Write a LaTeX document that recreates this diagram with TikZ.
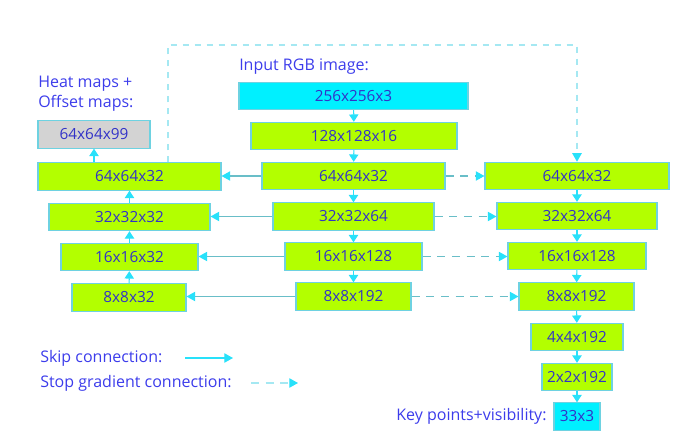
\documentclass[tikz,border=0pt]{standalone}
\usepackage{fontspec}
\setmainfont{Open Sans}
\usetikzlibrary{arrows.meta,calc}

\definecolor{limegr}{RGB}{179,255,0}
\definecolor{cyanbx}{RGB}{0,240,255}
\definecolor{greybx}{RGB}{211,211,211}
\definecolor{edgec}{RGB}{110,210,225}
\definecolor{txtc}{RGB}{50,50,200}
\definecolor{lblc}{RGB}{60,60,235}
\definecolor{skipc}{RGB}{105,190,200}
\definecolor{tipc}{RGB}{40,225,250}
\definecolor{stopc}{RGB}{165,232,242}

\tikzset{
  blk/.style={draw=edgec, line width=0.8pt, fill=limegr, text=txtc, inner sep=0pt,
    minimum height=20.5pt, minimum width=#1*0.75pt, font=\fontsize{11.5}{13}\selectfont},
  inblk/.style={blk=#1, fill=cyanbx},
  hmblk/.style={blk=#1, fill=greybx},
  lbl/.style={text=lblc, inner sep=0pt, font=\fontsize{12}{15}\selectfont},
  flow/.style={draw=tipc, line width=0.8pt, -{Triangle[width=7pt,length=5.5pt]}},
  skip/.style={draw=skipc, line width=0.9pt, -{Triangle[width=7pt,length=6.5pt,color=tipc]}},
  stop/.style={draw=skipc, line width=0.9pt, dash pattern=on 6pt off 5pt, -{Triangle[width=7pt,length=6.5pt,color=tipc]}},
  longstop/.style={draw=stopc, line width=1.3pt, dash pattern=on 5pt off 4pt, -{Triangle[width=7pt,length=6.5pt,color=tipc]}}
}

\begin{document}
\begin{tikzpicture}[x=0.75pt,y=0.75pt,yscale=-1,xscale=1]
\useasboundingbox (0,0) rectangle (687,440);

% Encoder (middle column)
\node [inblk=229] (in)  at (353.5,96)   {256x256x3};
\node [blk=206]   (c128) at (354,136)   {128x128x16};
\node [blk=183]   (m64) at (353.5,176)  {64x64x32};
\node [blk=161]   (m32) at (353.5,216.5) {32x32x64};
\node [blk=137]   (m16) at (353.5,256.5) {16x16x128};
\node [blk=115]   (m8)  at (353.5,296.5) {8x8x192};

% Heatmap branch (left column)
\node [hmblk=112] (hm)  at (94,134.5)   {64x64x99};
\node [blk=183]   (l64) at (129.5,176.5) {64x64x32};
\node [blk=161]   (l32) at (129.5,217)  {32x32x32};
\node [blk=137]   (l16) at (129.5,257)  {16x16x32};
\node [blk=114]   (l8)  at (129,297.5)  {8x8x32};

% Regression branch (right column)
\node [blk=184]   (r64) at (577,176)    {64x64x32};
\node [blk=160]   (r32) at (577,216)    {32x32x64};
\node [blk=138]   (r16) at (577,256)    {16x16x128};
\node [blk=115]   (r8)  at (576.5,296.5) {8x8x192};
\node [blk=92]    (r4)  at (577,337)    {4x4x192};
\node [blk=70]    (r2)  at (577,377)    {2x2x192};
\node [inblk=46]  (kp)  at (577,416.5)  {33x3};

%Straight Lines
\draw [flow] (in) -- (c128);
\draw [flow] (c128) -- (m64);
\draw [flow] (m64) -- (m32);
\draw [flow] (m32) -- (m16);
\draw [flow] (m16) -- (m8);
\draw [flow] (l8) -- (l16);
\draw [flow] (l16) -- (l32);
\draw [flow] (l32) -- (l64);
\draw [flow] (hm.south |- l64.north) -- (hm);
\draw [flow] (r64) -- (r32);
\draw [flow] (r32) -- (r16);
\draw [flow] (r16) -- (r8);
\draw [flow] (r8) -- (r4);
\draw [flow] (r4) -- (r2);
\draw [flow] (r2) -- (kp);

%Skip connections
\draw [skip] (m64) -- (l64.east |- m64);
\draw [skip] (m32) -- (l32.east |- m32);
\draw [skip] (m16) -- (l16.east |- m16);
\draw [skip] (m8) -- (l8.east |- m8);

%Stop gradient connections
\draw [stop] (m64) -- (r64);
\draw [stop] (m32) -- (r32.west |- m32);
\draw [stop] (m16) -- (r16.west |- m16);
\draw [stop] (m8) -- (r8.west |- m8);
\coordinate (lt) at (168,45);
\draw [longstop] (lt |- l64.north) -- (lt) -| (r64.north);

% Text Node
\node [lbl, anchor=west] (inlbl) at (239,67) {Input RGB image:};
% Text Node
\node [lbl, anchor=north west, align=left] (hmlbl) at (38,76) {Heat maps +\\Offset maps:};
% Text Node
\node [lbl, anchor=east] (kplbl) at ([xshift=-5pt]kp.west) {Key points+visibility:};

% Legend
\node [lbl, anchor=west] (sklbl) at (40,358) {Skip connection:};
\node [lbl, anchor=west] (stlbl) at (40,383) {Stop gradient connection:};
\coordinate (ska) at (185,358);
\coordinate (skb) at (233,358);
\coordinate (sta) at (251,383);
\coordinate (stb) at (298,383);
\draw [skip, draw=tipc] (ska) -- (skb);
\draw [stop, draw=stopc] (sta) -- (stb);

\end{tikzpicture}
\end{document}
